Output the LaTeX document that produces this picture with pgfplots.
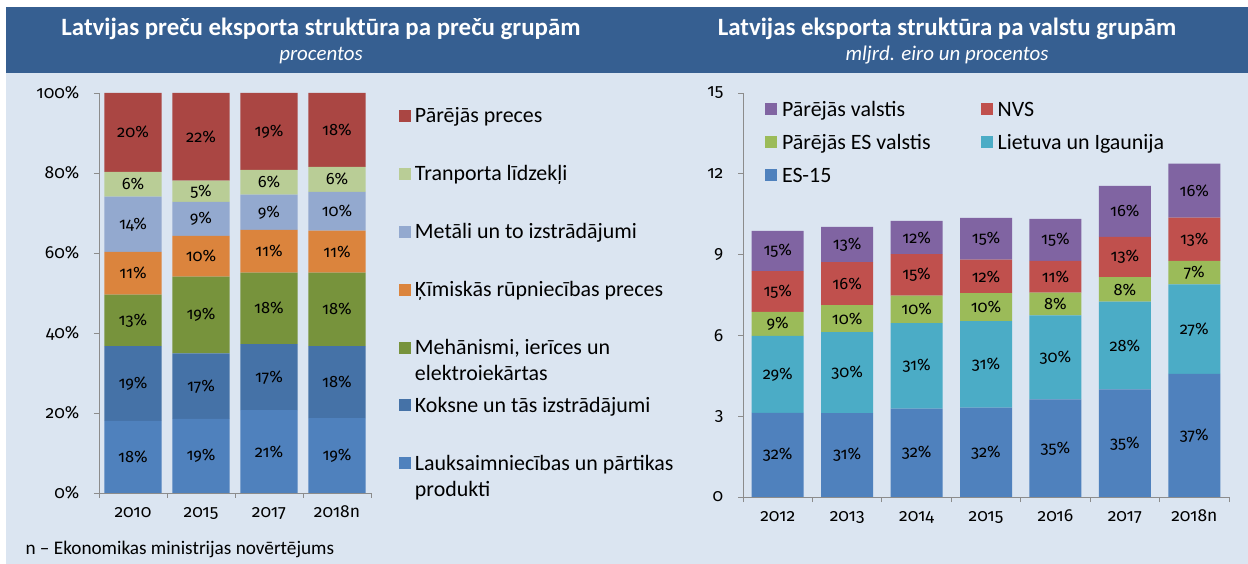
\documentclass[border=0pt]{standalone}
\usepackage{pgfplots}
\pgfplotsset{compat=1.18}
\usepackage{fontspec}
\setmainfont{Carlito}
\newfontfamily\numfont{Fira Sans}[Numbers=OldStyle]
\definecolor{hdr}{HTML}{365F91}
\definecolor{bgc}{HTML}{DBE5F1}
\definecolor{axg}{HTML}{8C8C8C}
\definecolor{lauk}{HTML}{4F81BD}
\definecolor{koks}{HTML}{4572A7}
\definecolor{meh}{HTML}{77933C}
\definecolor{kim}{HTML}{DB843D}
\definecolor{met}{HTML}{93A9CF}
\definecolor{tra}{HTML}{B9CD96}
\definecolor{par}{HTML}{AA4643}
\definecolor{es}{HTML}{4F81BD}
\definecolor{lie}{HTML}{4BACC6}
\definecolor{pes}{HTML}{9BBB59}
\definecolor{nvs}{HTML}{C0504D}
\definecolor{pv}{HTML}{8064A2}
\pgfplotsset{
  common/.style={
    scale only axis, ybar stacked,
    axis x line*=bottom, axis y line*=left,
    axis line style={draw=axg, line width=0.8pt},
    tick style={draw=axg, line width=0.8pt},
    tick align=outside, major tick length=5bp,
    /pgf/number format/assume math mode=true,
    ticklabel style={font=\numfont\fontsize{17.5}{20}\selectfont, text=black},
    xticklabel style={anchor=base, yshift=-24.5bp},
    yticklabel style={anchor=east, inner sep=0pt, xshift=-14.5bp},
    nodes near coords, point meta=explicit symbolic,
    every node near coord/.append style={anchor=center, inner sep=0pt, font=\numfont\fontsize{16.5}{19}\selectfont, text=black},
    legend style={draw=none, fill=none, inner sep=0pt, outer sep=0pt,
      font=\fontsize{22}{26}\selectfont, nodes={inner sep=0pt}, cells={anchor=base west}},
    legend image code/.code={\fill[##1] (0bp,1bp) rectangle (12bp,13bp);},
    reverse legend,
  },
  sq/.style={draw=none, legend image code/.code={\fill[##1] (0bp,1bp) rectangle (12bp,13bp);}},
}
\begin{document}
\begin{tikzpicture}
\path[use as bounding box] (0bp,0bp) rectangle (1248bp,564bp);
\fill[bgc] (6bp,0bp) rectangle (1248bp,491bp);
\fill[hdr] (6bp,491bp) rectangle (1248bp,557bp);
\node[text=white, anchor=base, font=\bfseries\fontsize{25}{29}\selectfont] at (321bp,528bp) {Latvijas preču eksporta struktūra pa preču grupām};
\node[text=white, anchor=base, font=\itshape\fontsize{21}{25}\selectfont] at (321bp,503bp) {procentos};
\node[text=white, anchor=base, font=\bfseries\fontsize{25}{29}\selectfont] at (947bp,528bp) {Latvijas eksporta struktūra pa valstu grupām};
\node[text=white, anchor=base, font=\itshape\fontsize{21}{25}\selectfont] at (947bp,503bp) {mljrd. eiro un procentos};
\node[anchor=base west, font=\fontsize{19.3}{22}\selectfont] at (22bp,10bp) {n – Ekonomikas ministrijas novērtējums};

\begin{axis}[common,
  at={(99bp,71bp)}, anchor=south west,
  width=272bp, height=400bp, bar width=57bp,
  xmin=-0.5, xmax=3.5, ymin=0, ymax=100,
  xtick={-0.5,0.5,1.5,2.5,3.5}, xticklabels={,,,,},
  extra x ticks={0,1,2,3}, extra x tick labels={2010,2015,2017,2018n},
  extra x tick style={major tick length=0pt},
  ytick={0,20,40,60,80,100}, yticklabel={\pgfmathprintnumber{\tick}\%},
  legend style={at={(1.1029,0.9575)}, anchor=north west, row sep=43.4bp,
    /tikz/every odd column/.append style={column sep=4bp}},
]
\addplot[sq, fill=lauk] coordinates {(0,18.0) [18\%] (1,18.5) [19\%] (2,20.7) [21\%] (3,18.7) [19\%]};
\addlegendentry{\smash{\vtop{\hbox{Lauksaimniecības un pārtikas}\hbox{produkti}}}}
\addplot[sq, fill=koks] coordinates {(0,18.7) [19\%] (1,16.4) [17\%] (2,16.5) [17\%] (3,18.0) [18\%]};
\addlegendentry{\smash{Koksne un tās izstrādājumi}}
\addplot[sq, fill=meh] coordinates {(0,12.9) [13\%] (1,19.2) [19\%] (2,17.9) [18\%] (3,18.4) [18\%]};
\addlegendentry{\smash{\vtop{\hbox{Mehānismi, ierīces un}\hbox{elektroiekārtas}}}}
\addplot[sq, fill=kim] coordinates {(0,10.7) [11\%] (1,10.2) [10\%] (2,10.7) [11\%] (3,10.5) [11\%]};
\addlegendentry{\smash{Ķīmiskās rūpniecības preces}}
\addplot[sq, fill=met] coordinates {(0,13.8) [14\%] (1,8.5) [9\%] (2,8.8) [9\%] (3,9.7) [10\%]};
\addlegendentry{\smash{Metāli un to izstrādājumi}}
\addplot[sq, fill=tra] coordinates {(0,6.2) [6\%] (1,5.3) [5\%] (2,6.2) [6\%] (3,6.2) [6\%]};
\addlegendentry{\smash{Tranporta līdzekļi}}
\addplot[sq, fill=par] coordinates {(0,19.7) [20\%] (1,21.9) [22\%] (2,19.2) [19\%] (3,18.5) [18\%]};
\addlegendentry{\smash{Pārējās preces}}
\end{axis}

\begin{axis}[common,
  at={(743bp,67bp)}, anchor=south west,
  width=486bp, height=404bp, bar width=52bp,
  xmin=-0.5, xmax=6.5, ymin=0, ymax=15,
  xtick={-0.5,0.5,1.5,2.5,3.5,4.5,5.5,6.5}, xticklabels={,,,,,,,},
  extra x ticks={0,1,2,3,4,5,6}, extra x tick labels={2012,2013,2014,2015,2016,2017,2018n},
  extra x tick style={major tick length=0pt},
  ytick={0,3,6,9,12,15},
  legend columns=2,
  legend style={at={(0.0453,0.975)}, anchor=north west, row sep=18.5bp,
    /tikz/every odd column/.append style={column sep=5bp},
    /tikz/every even column/.append style={column sep=50bp}},
]
\addplot[sq, fill=es] coordinates {(0,3.12) [32\%] (1,3.11) [31\%] (2,3.28) [32\%] (3,3.32) [32\%] (4,3.62) [35\%] (5,4.00) [35\%] (6,4.57) [37\%]};
\addlegendentry{\smash{ES-15}}
\addplot[sq, fill=lie] coordinates {(0,2.86) [29\%] (1,3.01) [30\%] (2,3.18) [31\%] (3,3.21) [31\%] (4,3.12) [30\%] (5,3.25) [28\%] (6,3.32) [27\%]};
\addlegendentry{\smash{Lietuva un Igaunija}}
\addplot[sq, fill=pes] coordinates {(0,0.89) [9\%] (1,1.00) [10\%] (2,1.02) [10\%] (3,1.04) [10\%] (4,0.85) [8\%] (5,0.91) [8\%] (6,0.88) [7\%]};
\addlegendentry{\smash{Pārējās ES valstis}}
\addplot[sq, fill=nvs] coordinates {(0,1.52) [15\%] (1,1.60) [16\%] (2,1.54) [15\%] (3,1.24) [12\%] (4,1.18) [11\%] (5,1.50) [13\%] (6,1.60) [13\%]};
\addlegendentry{\smash{NVS}}
\addplot[sq, fill=pv] coordinates {(0,1.49) [15\%] (1,1.31) [13\%] (2,1.23) [12\%] (3,1.55) [15\%] (4,1.56) [15\%] (5,1.89) [16\%] (6,2.01) [16\%]};
\addlegendentry{\smash{Pārējās valstis}}
\end{axis}
\end{tikzpicture}
\end{document}
